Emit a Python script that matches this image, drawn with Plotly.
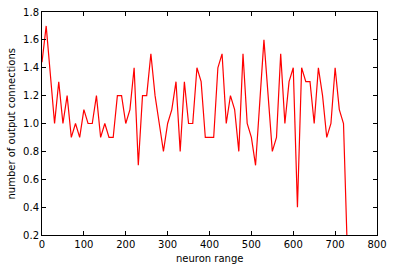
import plotly.graph_objects as go

neuron_x = list(range(0, 740, 10))
connections = [
    1.44, 1.7, 1.35, 1.0, 1.3, 1.0, 1.2, 0.9, 1.0, 0.9,
    1.1, 1.0, 1.0, 1.2, 0.9, 1.0, 0.9, 0.9, 1.2, 1.2,
    1.0, 1.1, 1.4, 0.7, 1.2, 1.2, 1.5, 1.2, 1.0, 0.8,
    1.0, 1.1, 1.3, 0.8, 1.3, 1.0, 1.0, 1.4, 1.3, 0.9,
    0.9, 0.9, 1.4, 1.5, 1.0, 1.2, 1.1, 0.8, 1.5, 1.0,
    0.9, 0.7, 1.15, 1.6, 1.2, 0.8, 0.9, 1.5, 1.0, 1.3,
    1.4, 0.4, 1.4, 1.3, 1.3, 1.0, 1.4, 1.2, 0.9, 1.0,
    1.4, 1.1, 1.0, 0.0,
]
x_ticks = [0, 100, 200, 300, 400, 500, 600, 700, 800]
y_ticks = [0.2, 0.4, 0.6, 0.8, 1.0, 1.2, 1.4, 1.6, 1.8]

FONT = dict(family="DejaVu Sans", size=10, color="black")

fig = go.Figure(go.Scatter(x=neuron_x, y=connections, mode="lines",
                           line=dict(color="#ff0000", width=1.2)))

axis_common = dict(showline=True, linecolor="black", linewidth=1, mirror="allticks",
                   ticks="inside", ticklen=4, tickcolor="black", tickwidth=1,
                   showgrid=False, zeroline=False, automargin=False,
                   tickfont=FONT)

fig.update_layout(
    width=393, height=271,
    margin=dict(l=42, r=16, t=12, b=36),
    paper_bgcolor="white", plot_bgcolor="white",
    showlegend=False,
    xaxis=dict(range=[0, 800], tickvals=x_ticks, ticktext=[str(v) for v in x_ticks],
               **axis_common),
    yaxis=dict(range=[0.2, 1.8], tickvals=y_ticks, ticktext=[f"{v:.1f}" for v in y_ticks],
               **axis_common),
    annotations=[
        dict(text="neuron range", xref="paper", yref="paper", x=0.5, y=0,
             yshift=-23, xanchor="center", yanchor="middle", showarrow=False, font=FONT),
        dict(text="number of output connections", xref="paper", yref="paper", x=0, y=0.5,
             xshift=-31, xanchor="center", yanchor="middle", textangle=-90,
             showarrow=False, font=FONT),
    ],
)

fig.write_html("out.html", config={"displayModeBar": False},
               post_script="document.body.style.margin='0px';")
